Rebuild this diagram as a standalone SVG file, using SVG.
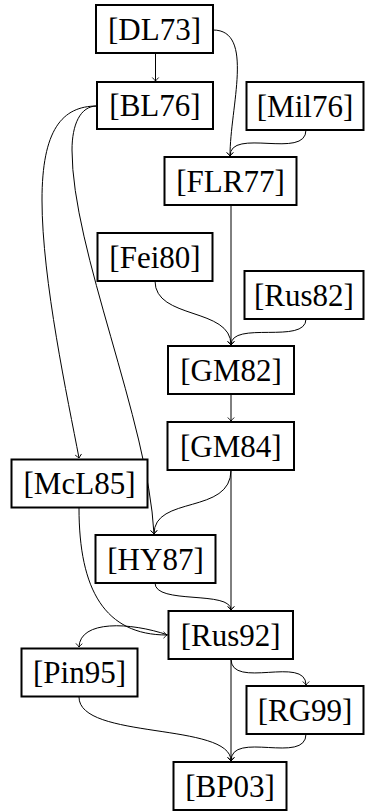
<svg xmlns="http://www.w3.org/2000/svg" width="365" height="812" viewBox="0 0 365 812">
<style>
.box rect{fill:#fff;stroke:#000;stroke-width:2}
.box text{font-size:31px;fill:#000;text-anchor:middle}
#edges path{fill:none;stroke:#000;stroke-width:1;marker-end:url(#arr)}
</style>
<defs>
<marker id="arr" markerUnits="userSpaceOnUse" markerWidth="10" markerHeight="10" refX="0" refY="0" viewBox="-5 -5 10 10" orient="auto" overflow="visible">
<path d="M-3.5,-3.2 Q-1,-0.8 0,0 Q-1,0.8 -3.5,3.2" fill="none" stroke="#000" stroke-width="0.9"/>
</marker>
</defs>
<g id="edges">
<path d="M155.5,53 L155.5,81"/>
<path d="M213,30 C255,30 230,107 230,156"/>
<path d="M306,130 C306,160 230,127 230,156"/>
<path d="M97,106 C62,106 42,130 42,200 C42,280 68,400 79,458"/>
<path d="M97,106 C80,106 72,125 72,150 C72,250 148,420 154,534"/>
<path d="M231,205 L231,345"/>
<path d="M155,281 C155,320 231,307 231,345"/>
<path d="M306,319 C306,345 231,320 231,345"/>
<path d="M231,394 L231,421"/>
<path d="M231,470 C231,515 154,495 154,534"/>
<path d="M231,470 L231,610"/>
<path d="M79,508 C79,590 105,635 167,635"/>
<path d="M155,583 C155,605 231,590 231,610"/>
<path d="M168,635 C130,622 80,620 79,647"/>
<path d="M231,659 C231,690 306,655 306,685"/>
<path d="M231,659 L231,761"/>
<path d="M79,697 C79,740 231,722 231,761"/>
<path d="M306,734 C306,765 231,730 231,761"/>
</g>
<g font-family="'Liberation Serif', Times, serif">
<g id="DL73" class="box"><rect x="96" y="5" width="117" height="48"/><text x="154.5" y="39.5">[DL73]</text></g>
<g id="BL76" class="box"><rect x="97" y="82" width="116" height="47"/><text x="155" y="116">[BL76]</text></g>
<g id="Mil76" class="box"><rect x="246.5" y="82" width="117" height="48"/><text x="305" y="116.5">[Mil76]</text></g>
<g id="FLR77" class="box"><rect x="164.5" y="157" width="132" height="48"/><text x="230.5" y="191.5">[FLR77]</text></g>
<g id="Fei80" class="box"><rect x="97.5" y="233" width="115" height="48"/><text x="155" y="267.5">[Fei80]</text></g>
<g id="Rus82" class="box"><rect x="244.5" y="271" width="119" height="48"/><text x="304" y="305.5">[Rus82]</text></g>
<g id="GM82" class="box"><rect x="168" y="346" width="126" height="48"/><text x="231" y="380.5">[GM82]</text></g>
<g id="GM84" class="box"><rect x="167.5" y="422" width="126.5" height="48"/><text x="230.75" y="456.5">[GM84]</text></g>
<g id="McL85" class="box"><rect x="11.5" y="459.5" width="136" height="48"/><text x="79.5" y="494">[McL85]</text></g>
<g id="HY87" class="box"><rect x="95.5" y="535" width="120" height="48"/><text x="155.5" y="569.5">[HY87]</text></g>
<g id="Rus92" class="box"><rect x="168.5" y="611" width="124.5" height="48"/><text x="230.75" y="645.5">[Rus92]</text></g>
<g id="Pin95" class="box"><rect x="21.5" y="648.5" width="116" height="48"/><text x="79.5" y="683">[Pin95]</text></g>
<g id="RG99" class="box"><rect x="246.5" y="686" width="117" height="48"/><text x="305" y="720.5">[RG99]</text></g>
<g id="BP03" class="box"><rect x="173.5" y="762" width="113" height="48"/><text x="230" y="796.5">[BP03]</text></g>
</g>
</svg>
